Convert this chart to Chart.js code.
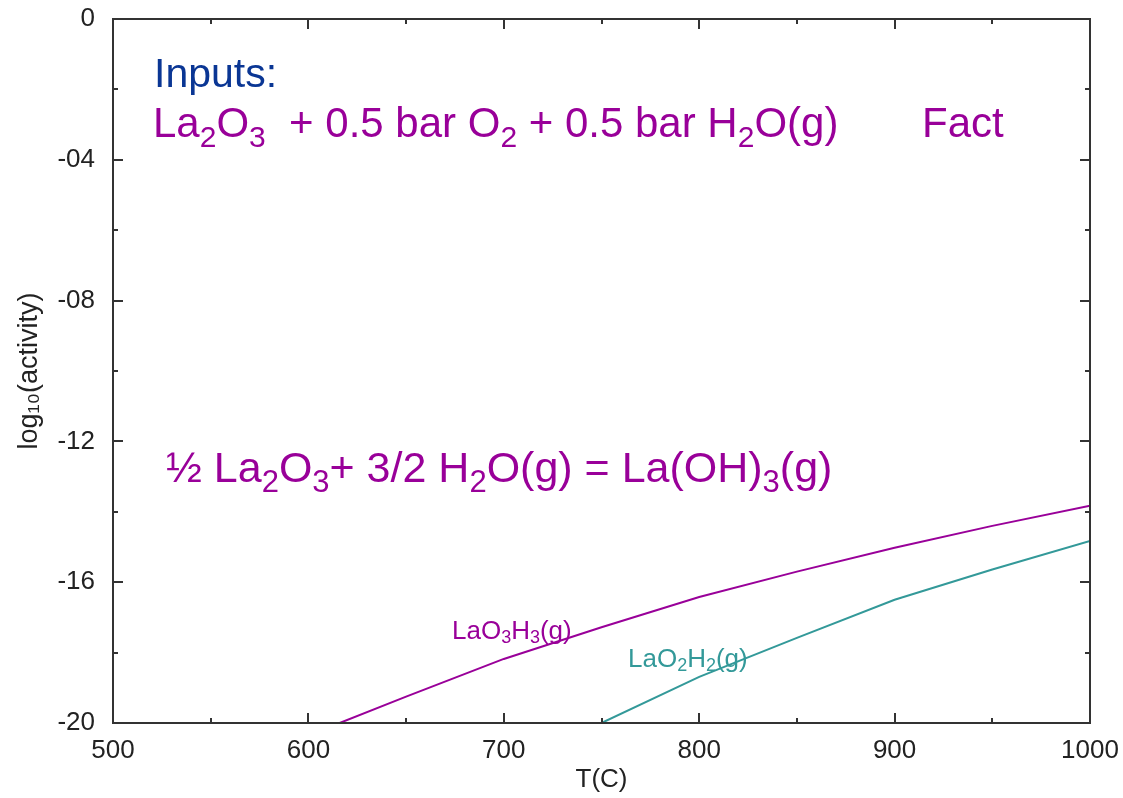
<!DOCTYPE html>
<html><head><meta charset="utf-8">
<script src="https://cdn.jsdelivr.net/npm/chart.js@4/dist/chart.umd.min.js"></script>
<style>html,body{margin:0;padding:0;background:#fff}#wrap{width:1123px;height:798px}</style>
</head><body><div id="wrap"><canvas id="c" width="1123" height="798"></canvas></div>
<script>
// ---- data ----
const tempLaO3H3 = [616, 650, 700, 750, 800, 850, 900, 950, 1000];
const logLaO3H3  = [-20, -19.25, -18.18, -17.28, -16.42, -15.70, -15.02, -14.40, -13.83];
const tempLaO2H2 = [750, 800, 850, 900, 950, 1000];
const logLaO2H2  = [-20, -18.69, -17.58, -16.50, -15.64, -14.83];
const xTicks = [500, 600, 700, 800, 900, 1000];
const yTicks = [0, -4, -8, -12, -16, -20];
const yTickLabels = ['0', '-04', '-08', '-12', '-16', '-20'];
const xTitle = 'T(C)';
const yTitle = 'log\u2081\u2080(activity)';

const PURPLE = '#990099', TEAL = '#339999', BLUE = '#0a3694', AXIS = '#333333';
const TXT = '"Liberation Sans", Arial, sans-serif';

function toPts(xs, ys){ return xs.map((x,i)=>({x:x, y:ys[i]})); }

function drawRich(ctx, x, y, parts, size, color, subRatio, subOff){
  ctx.save();
  ctx.fillStyle = color; ctx.textBaseline = 'alphabetic'; ctx.textAlign = 'left';
  let cx = x;
  for (const p of parts){
    const t = p[0], sub = p[1];
    const fs = sub ? Math.round(size*subRatio) : size;
    ctx.font = fs + 'px ' + TXT;
    ctx.fillText(t, cx, sub ? y + size*subOff : y);
    cx += ctx.measureText(t).width;
  }
  ctx.restore();
}

const annotations = [
  {x:154, y:87,  size:41, color:BLUE,   parts:[['Inputs:']]},
  {x:153, y:137, size:42, color:PURPLE, parts:[['La'],['2',1],['O'],['3',1],['  + 0.5 bar O'],['2',1],[' + 0.5 bar H'],['2',1],['O(g)']]},
  {x:922, y:137, size:42, color:PURPLE, parts:[['Fact']]},
  {x:166, y:482, size:43, color:PURPLE, parts:[['\u00BD La'],['2',1],['O'],['3',1],['+ 3/2 H'],['2',1],['O(g) = La(OH)'],['3',1],['(g)']]},
  {x:452, y:639, size:26, color:PURPLE, parts:[['LaO'],['3',1],['H'],['3',1],['(g)']]},
  {x:628, y:667, size:26, color:TEAL,   parts:[['LaO'],['2',1],['H'],['2',1],['(g)']]}
];

const framePlugin = {
  id:'frame',
  afterDatasetsDraw(chart){
    const {ctx, chartArea:a, scales:{x, y}} = chart;
    ctx.save();
    ctx.strokeStyle = AXIS; ctx.lineWidth = 2;
    ctx.strokeRect(a.left, a.top, a.right - a.left, a.bottom - a.top);
    ctx.beginPath();
    const xt = [], yt = [];
    xTicks.forEach((v,i)=>{ xt.push([v,10]); if(i<xTicks.length-1) xt.push([(v+xTicks[i+1])/2,5]); });
    yTicks.forEach((v,i)=>{ yt.push([v,10]); if(i<yTicks.length-1) yt.push([(v+yTicks[i+1])/2,5]); });
    xt.forEach(([v,l])=>{ const px = Math.round(x.getPixelForValue(v));
      ctx.moveTo(px, a.bottom); ctx.lineTo(px, a.bottom - l);
      ctx.moveTo(px, a.top); ctx.lineTo(px, a.top + l); });
    yt.forEach(([v,l])=>{ const py = Math.round(y.getPixelForValue(v));
      ctx.moveTo(a.left, py); ctx.lineTo(a.left + l, py);
      ctx.moveTo(a.right, py); ctx.lineTo(a.right - l, py); });
    ctx.stroke();
    ctx.restore();
    annotations.forEach(an => drawRich(ctx, an.x, an.y, an.parts, an.size, an.color, an.size>30?0.72:0.68, an.size>30?0.24:0.16));
  }
};

const tickFont = {family:TXT, size:26};

new Chart(document.getElementById('c'), {
  type:'scatter',
  data:{datasets:[
    {label:'LaO3H3(g)', data:toPts(tempLaO3H3, logLaO3H3), showLine:true, borderColor:PURPLE, backgroundColor:PURPLE, borderWidth:2, pointRadius:0, tension:0},
    {label:'LaO2H2(g)', data:toPts(tempLaO2H2, logLaO2H2), showLine:true, borderColor:TEAL, backgroundColor:TEAL, borderWidth:2, pointRadius:0, tension:0}
  ]},
  options:{
    responsive:false, animation:false, devicePixelRatio:1,
    layout:{padding:{top:19, right:33, left:0, bottom:0}},
    plugins:{legend:{display:false}, tooltip:{enabled:false}},
    scales:{
      x:{type:'linear', min:500, max:1000,
        afterBuildTicks(s){ s.ticks = xTicks.map(v=>({value:v})); },
        afterFit(s){ s.height = 75; s.paddingLeft = 0; s.paddingRight = 0; },
        grid:{display:false, drawTicks:false}, border:{display:false},
        ticks:{font:tickFont, color:'#222', padding:12, maxRotation:0, autoSkip:false, callback:(v)=>String(v)},
        title:{display:true, text:xTitle, font:{family:TXT, size:26}, color:'#222', padding:{top:0, bottom:3}}
      },
      y:{type:'linear', min:-20, max:0,
        afterBuildTicks(s){ s.ticks = yTicks.map(v=>({value:v})); },
        afterFit(s){ s.width = 113; s.paddingTop = 0; s.paddingBottom = 0; },
        grid:{display:false, drawTicks:false}, border:{display:false},
        ticks:{font:tickFont, color:'#222', padding:18, autoSkip:false, callback:(v)=>{ const i = yTicks.indexOf(v); return i>=0 ? yTickLabels[i] : ''; }},
        title:{display:true, text:yTitle, font:{family:TXT, size:27}, color:'#222', padding:{top:13, bottom:0}}
      }
    }
  },
  plugins:[framePlugin]
});
</script></body></html>
